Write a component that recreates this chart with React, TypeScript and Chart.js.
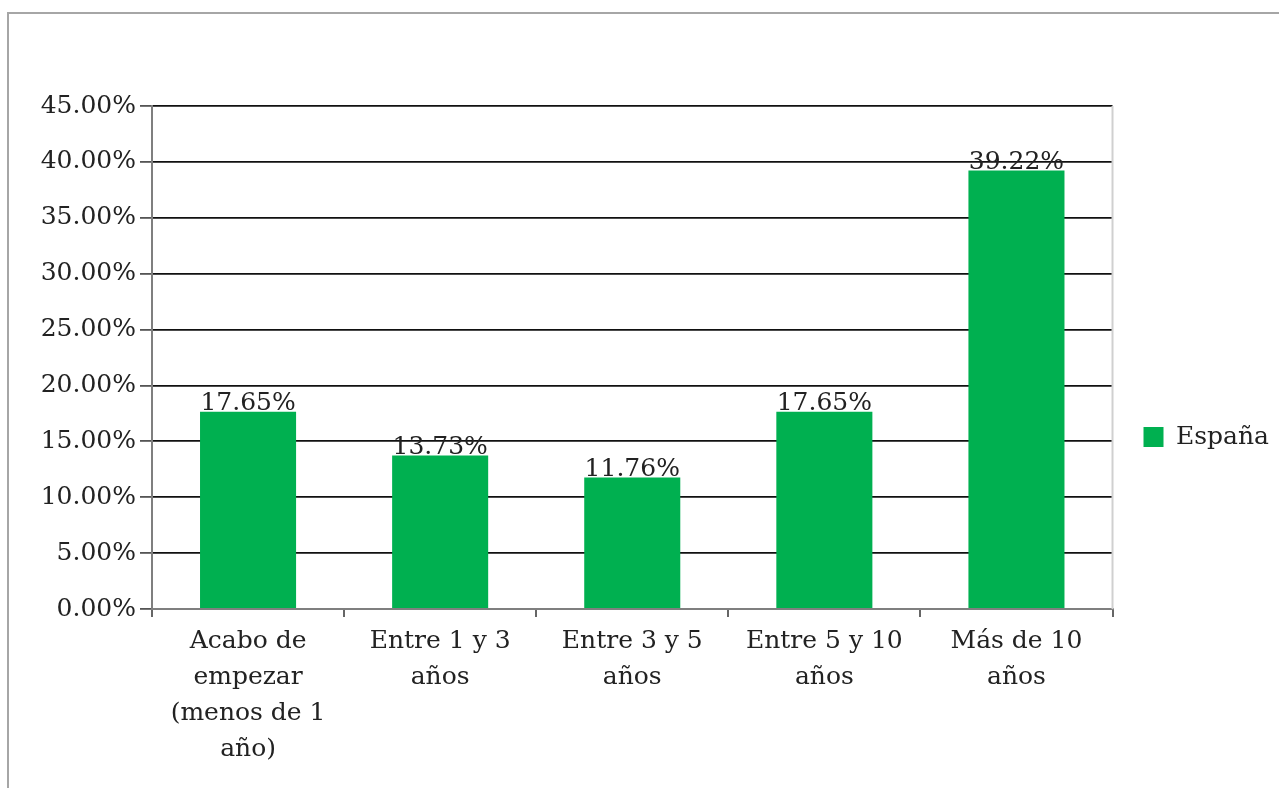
import React, { useEffect, useRef } from "react";
import { Chart, registerables } from "chart.js";

Chart.register(...registerables);

const categories: string[][] = [
  ["Acabo de", "empezar", "(menos de 1", "año)"],
  ["Entre 1 y 3", "años"],
  ["Entre 3 y 5", "años"],
  ["Entre 5 y 10", "años"],
  ["Más de 10", "años"],
];
const values: number[] = [17.65, 13.73, 11.76, 17.65, 39.22];
const seriesName = "España";
const yMin = 0;
const yMax = 45;
const yStep = 5;

const FONT = "'DejaVu Serif', serif";
const TEXT = "#222";

export default function App() {
  const ref = useRef<HTMLCanvasElement | null>(null);
  useEffect(() => {
    if (!ref.current) return;
    const labelPlugin = {
      id: "barLabels",
      beforeDatasetsDraw(chart: any) {
        const { ctx, chartArea } = chart;
        ctx.save();
        ctx.strokeStyle = "#d0d0d0";
        ctx.lineWidth = 2;
        ctx.beginPath();
        ctx.moveTo(chartArea.right, chartArea.top);
        ctx.lineTo(chartArea.right, chartArea.bottom);
        ctx.stroke();
        ctx.restore();
      },
      afterDatasetsDraw(chart: any) {
        const ctx = chart.ctx;
        const meta = chart.getDatasetMeta(0);
        ctx.save();
        ctx.font = `25px ${FONT}`;
        ctx.fillStyle = TEXT;
        ctx.textAlign = "center";
        ctx.textBaseline = "alphabetic";
        meta.data.forEach((bar: any, i: number) => {
          ctx.fillText(values[i].toFixed(2) + "%", bar.x, bar.y - 2);
        });
        ctx.restore();
      },
    };
    const chart = new Chart(ref.current, {
      type: "bar",
      data: {
        labels: categories,
        datasets: [
          {
            label: seriesName,
            data: values,
            backgroundColor: "#00B050",
            borderWidth: 0,
            barPercentage: 0.5,
            categoryPercentage: 1.0,
          },
        ],
      },
      options: {
        responsive: false,
        animation: false,
        layout: { padding: { left: 0, top: 106, right: 0, bottom: 20 } },
        plugins: {
          tooltip: { enabled: false },
          legend: {
            position: "right",
            labels: {
              boxWidth: 20,
              boxHeight: 20,
              padding: 31,
              color: TEXT,
              font: { family: FONT, size: 25 },
            },
          },
        },
        scales: {
          x: {
            afterFit(scale: any) {
              scale.height = 159;
            },
            grid: {
              offset: true,
              drawOnChartArea: false,
              tickColor: "#666",
              tickLength: 8,
              lineWidth: 2,
            },
            border: { display: true, color: "#7f7f7f", width: 2 },
            ticks: {
              color: TEXT,
              padding: 6,
              maxRotation: 0,
              autoSkip: false,
              font: { family: FONT, size: 25, lineHeight: 1.44 },
            },
          },
          y: {
            min: yMin,
            max: yMax,
            afterFit(scale: any) {
              scale.width = 152;
            },
            grid: {
              color: "#111",
              lineWidth: 1.8,
              tickColor: "#555",
              tickLength: 12,
            },
            border: { display: true, color: "#7f7f7f", width: 2 },
            ticks: {
              stepSize: yStep,
              color: TEXT,
              padding: 4,
              font: { family: FONT, size: 25 },
              callback: (v: any) => Number(v).toFixed(2) + "%",
            },
          },
        },
      },
      plugins: [labelPlugin],
    });
    return () => chart.destroy();
  }, []);

  return (
    <div style={{ position: "fixed", inset: 0, background: "#fff", overflow: "hidden" }}>
      <canvas ref={ref} width={1279} height={788} style={{ display: "block", position: "absolute", left: 0, top: 0 }} />
      <div
        style={{
          position: "absolute",
          left: 7,
          top: 12,
          width: 1300,
          height: 800,
          borderTop: "2px solid #a6a6a6",
          borderLeft: "2px solid #a6a6a6",
          pointerEvents: "none",
        }}
      />
    </div>
  );
}
